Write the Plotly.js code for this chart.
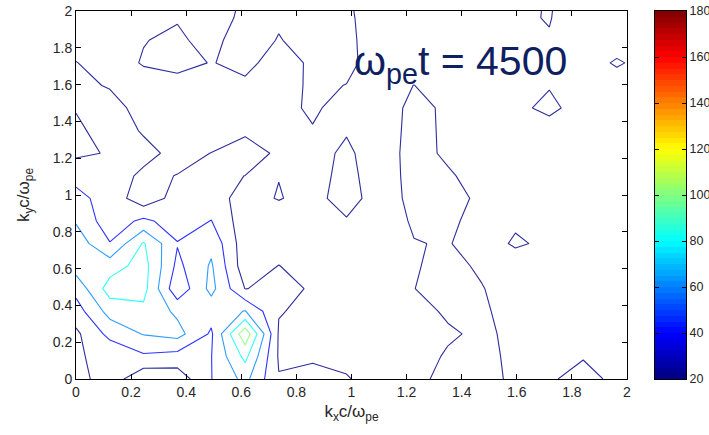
<!DOCTYPE html>
<html><head><meta charset="utf-8">
<script src="https://cdn.plot.ly/plotly-3.0.1.min.js"></script>
<style>html,body{margin:0;padding:0;background:#fff}#chart{width:709px;height:435px}</style>
</head><body><div id="chart"></div>
<script>
// wavenumber grid (k c / omega_pe)
const kx = [0, 0.123, 0.245, 0.368, 0.491, 0.614, 0.736, 0.859, 0.982, 1.104, 1.227, 1.350, 1.473, 1.595, 1.718, 1.841, 1.963, 2.086];
const ky = [0, 0.123, 0.245, 0.368, 0.491, 0.614, 0.736, 0.859, 0.982, 1.104, 1.227, 1.350, 1.473, 1.595, 1.718, 1.841, 1.963, 2.086];
// spectrum values, one row per ky
const r00 = [12, 31, 4.7, 8, 39.5, 66, 21, 29, 21.6, 10, 10, 31, 30, 14.4, 16.5, 30, 13, 10];
const r01 = [18.5, 24, 37, 32.5, 39.5, 85.5, 18, 16, 14.3, 8, 8, 23.2, 27.6, 14, 12, 18.1, 11, 10];
const r02 = [16, 46, 61, 67, 37, 114, 18, 12, 10, 9, 9, 16.4, 25, 14, 11, 10, 10, 10];
const r03 = [31, 67.5, 75, 56, 48, 61, 21, 16, 8, 8, 10, 24, 25, 7.1, 9, 10, 9, 9];
const r04 = [46.5, 89, 87, 25, 66, 19.5, 25, 18.3, 8, 8, 19.7, 28, 21, 9.9, 10, 9, 10, 10];
const r05 = [69, 71, 88, 35, 62.5, 8, 20.5, 10, 8, 8, 18.4, 26, 16.9, 12, 10, 10, 9, 9];
const r06 = [72, 41, 82, 41, 55, 8, 10, 8, 10, 8, 19.4, 21, 12.7, 22, 17, 10, 10, 10];
const r07 = [58, 28, 44.5, 30, 40.5, 8.3, 10, 8, 18.4, 11, 22, 24.5, 12, 17.7, 10, 10, 10, 10];
const r08 = [45, 33, 6.8, 28, 27, 13.9, 21, 14, 28, 10.6, 25, 29, 15, 11, 10, 9, 10, 10];
const r09 = [35, 30, 16, 20.5, 25, 19.8, 19.6, 12.7, 26, 9.3, 27, 23, 10.5, 10, 10, 10, 10, 10];
const r10 = [16, 21.6, 26, 14, 20.3, 31, 16, 12.2, 24, 8, 28.7, 15.9, 10, 10, 10, 10, 10, 10];
const r11 = [15, 31, 18, 10, 12, 16, 10, 18, 18.4, 10, 26, 16.8, 12, 12, 16.4, 10, 10, 10];
const r12 = [21.5, 28, 12, 8, 10, 10, 10, 25, 7, 10, 25, 17, 12, 18, 22, 16.3, 10, 10];
const r13 = [25, 18.4, 9, 13, 12, 16.5, 10, 24, 19.5, 10, 20.3, 10, 10, 12, 19.5, 12, 17.9, 10];
const r14 = [20.8, 8, 22, 26, 19.2, 25, 12, 23, 26, 8.4, 10, 10, 10, 10, 12, 18, 20.5, 18.4];
const r15 = [9, 8, 19, 25, 10, 38, 18, 34, 24, 11, 10, 10, 10, 10, 18.6, 10, 18, 10];
const r16 = [6, 7, 10, 18, 10, 25, 25, 30, 24, 8, 10, 10, 10, 17, 21, 7, 10, 10];
const r17 = [5, 6, 8, 12, 10, 22, 25, 28, 22, 8, 10, 10, 10, 12, 22, 8, 10, 10];
// contour levels, colour axis and tick labels
const levels = [20, 40, 60, 80, 100];
const cRange = [20, 180];
const cbTicks = [20, 40, 60, 80, 100, 120, 140, 160, 180];
const axTicks = [0, 0.2, 0.4, 0.6, 0.8, 1, 1.2, 1.4, 1.6, 1.8, 2];
const label = 'ω<sub>pe</sub>t = 4500';
const xLabel = 'k<sub>x</sub>c/ω<sub>pe</sub>';
const yLabel = 'k<sub>y</sub>c/ω<sub>pe</sub>';

const z = [r00, r01, r02, r03, r04, r05, r06, r07, r08, r09, r10, r11, r12, r13, r14, r15, r16, r17];

function clamp(v) { return Math.max(0, Math.min(1, v)); }
function jet(t) {
  const r = clamp(1.5 - Math.abs(4 * t - 3));
  const g = clamp(1.5 - Math.abs(4 * t - 2));
  const b = clamp(1.5 - Math.abs(4 * t - 1));
  return 'rgb(' + Math.round(r * 255) + ',' + Math.round(g * 255) + ',' + Math.round(b * 255) + ')';
}
const NC = 64;
function jetBin(v) {
  let i = Math.floor((v - cRange[0]) / (cRange[1] - cRange[0]) * NC);
  i = Math.max(0, Math.min(NC - 1, i));
  return jet((i + 0.5) / NC);
}
const jetScale = [];
for (let i = 0; i < NC; i++) {
  const c = jet((i + 0.5) / NC);
  jetScale.push([i / NC, c]);
  jetScale.push([(i + 1) / NC, c]);
}
const lineScale = levels.map((l, i) => [i / (levels.length - 1), jetBin(l)]);

// colour-key ramp (one cell per colormap step, like MATLAB's colorbar image)
const rampY = [], rampZ = [];
for (let i = 0; i < NC; i++) {
  const v = cRange[0] + (i + 0.5) * (cRange[1] - cRange[0]) / NC;
  rampY.push(v); rampZ.push([v]);
}

const FONT = 'Liberation Sans, Arial, sans-serif';
const tickFont = {family: FONT, size: 14, color: '#262626'};

const W = 709, H = 435;
const px = {l: 76, r: 627, t: 11, b: 379, cbl: 655, cbr: 686};
const xDom = [px.l / W, px.r / W];
const yDom = [(H - px.b) / H, (H - px.t) / H];

const traces = [
  {
    type: 'contour', x: kx, y: ky, z: z, xaxis: 'x', yaxis: 'y',
    autocontour: false, opacity: 0.82,
    contours: {coloring: 'lines', start: levels[0], end: levels[levels.length - 1], size: levels[1] - levels[0], showlabels: false},
    line: {width: 1.1, smoothing: 0},
    colorscale: lineScale, showscale: false, hoverinfo: 'skip'
  },
  {
    type: 'heatmap', x: [0.5], y: rampY, z: rampZ, xaxis: 'x2', yaxis: 'y2',
    colorscale: jetScale, zmin: cRange[0], zmax: cRange[1], showscale: false, hoverinfo: 'skip'
  }
];

const axisBase = {
  ticks: 'inside', ticklen: 5, tickcolor: '#000', tickwidth: 1,
  showline: true, linecolor: '#000', linewidth: 1, mirror: 'ticks',
  showgrid: false, zeroline: false, tickfont: tickFont, automargin: false
};

const layout = {
  width: W, height: H,
  margin: {l: 0, r: 0, t: 0, b: 0, pad: 0},
  paper_bgcolor: '#fff', plot_bgcolor: '#fff', showlegend: false,
  font: {family: FONT},
  xaxis: Object.assign({}, axisBase, {domain: xDom, range: [0, 2], tickvals: axTicks, anchor: 'y',
    title: {text: xLabel, font: {family: FONT, size: 17, color: '#262626'}, standoff: 6}}),
  yaxis: Object.assign({}, axisBase, {domain: yDom, range: [0, 2], tickvals: axTicks, anchor: 'x',
    title: {text: yLabel, font: {family: FONT, size: 17, color: '#262626'}, standoff: 18}}),
  xaxis2: {domain: [px.cbl / W, px.cbr / W], range: [0, 1], anchor: 'y2', showticklabels: false, ticks: '',
    showline: true, linecolor: '#000', linewidth: 1, mirror: true, showgrid: false, zeroline: false},
  yaxis2: Object.assign({}, axisBase, {domain: yDom, range: cRange, anchor: 'x2', side: 'right', tickvals: cbTicks, ticklen: 4,
    tickfont: {family: FONT, size: 12.5, color: '#262626'}}),
  annotations: [{
    text: label, xref: 'paper', yref: 'paper', x: 352 / W, y: (H - 64) / H, xanchor: 'left', yanchor: 'middle',
    showarrow: false, font: {family: FONT, size: 41, color: '#0f2060'}
  }]
};

Plotly.newPlot('chart', traces, layout, {staticPlot: true, displayModeBar: false});
</script>
</body></html>
